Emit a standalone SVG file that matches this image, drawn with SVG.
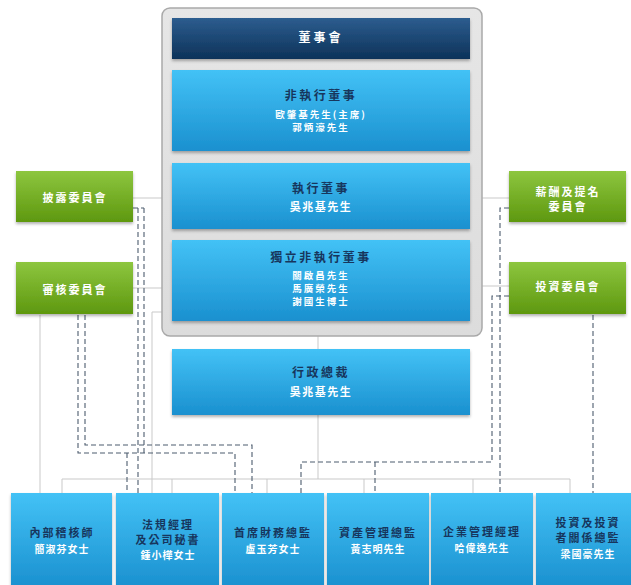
<svg xmlns="http://www.w3.org/2000/svg" width="631" height="585" viewBox="0 0 631 585">
<style>
text{font-family:"Noto Sans CJK TC","Noto Sans CJK SC",sans-serif;font-weight:bold;text-anchor:middle}
.t{font-size:12px;fill:#17365d;letter-spacing:2.5px}
.n{font-size:11px;fill:#ffffff;letter-spacing:1.5px}
.m{font-size:9.5px;fill:#ffffff;letter-spacing:2px}
.bt{font-size:11px;fill:#17365d;letter-spacing:2px}
.bn{font-size:10px;fill:#ffffff;letter-spacing:1px}
.g{font-size:11px;fill:#ffffff;letter-spacing:2px}
.w{font-size:12px;fill:#ffffff;letter-spacing:3px}
.blue{fill:url(#gb);filter:url(#sh)}
.green{fill:url(#gg);filter:url(#sh)}
.sl{stroke:#c9c9c9;stroke-width:1;fill:none}
.dl{stroke:#4d5c6e;stroke-width:1.1;fill:none;stroke-dasharray:5 3}
</style>
<defs>
<linearGradient id="gb" x1="0" y1="0" x2="0" y2="1"><stop offset="0" stop-color="#43c2f6"/><stop offset="1" stop-color="#1a90cf"/></linearGradient>
<linearGradient id="gg" x1="0" y1="0" x2="0" y2="1"><stop offset="0" stop-color="#8dc63f"/><stop offset="1" stop-color="#5e980f"/></linearGradient>
<linearGradient id="gn" x1="0" y1="0" x2="0" y2="1"><stop offset="0" stop-color="#2d5d8f"/><stop offset="1" stop-color="#0c3259"/></linearGradient>
<linearGradient id="gc" x1="0" y1="0" x2="0" y2="1"><stop offset="0" stop-color="#e6e6e6"/><stop offset="1" stop-color="#dcdcdc"/></linearGradient>
<filter id="sh" x="-10%" y="-10%" width="120%" height="140%"><feDropShadow dx="0" dy="2" stdDeviation="1.5" flood-color="#000" flood-opacity="0.3"/></filter>
</defs>
<rect width="631" height="585" fill="#ffffff"/>
<g id="connectors">
<path class="sl" d="M318 336V349M318 415V479M62 479H570M62 479V493M172 479V493M267 479V493M364 479V493M473 479V493M570 479V493"/>
<path class="sl" d="M133 198H162M133 288H162M482 198H509M482 286H509M40 315V493M162 312H152V493"/>
<path class="dl" d="M133 208H144M138 208V493M144 208V453"/>
<path class="dl" d="M85 315V445H252V493M78 315V453H235V493M127 453V493"/>
<path class="dl" d="M509 208H500V493M509 296H492V462H301V493M375 462V493M593 315V493"/>
</g>
<g id="container"><rect x="162" y="8" width="320" height="328" rx="8" fill="url(#gc)" stroke="#a9a9a9" stroke-width="1.5"/></g>
<g id="board"><rect x="172" y="18" width="298" height="41" fill="url(#gn)" filter="url(#sh)"/><text class="w" x="321" y="42">董事會</text></g>
<g id="ned"><rect class="blue" x="172" y="70" width="298" height="81"/><text class="t" x="321" y="100">非執行董事</text><text class="m" x="321" y="118">歐肇基先生(主席)</text><text class="m" x="321" y="131">郭炳濠先生</text></g>
<g id="ed"><rect class="blue" x="172" y="163" width="298" height="66"/><text class="t" x="321" y="193">執行董事</text><text class="n" x="321" y="211">吳兆基先生</text></g>
<g id="ined"><rect class="blue" x="172" y="240" width="298" height="81"/><text class="t" x="321" y="262">獨立非執行董事</text><text class="m" x="321" y="279">關啟昌先生</text><text class="m" x="321" y="292">馬廣榮先生</text><text class="m" x="321" y="305">謝國生博士</text></g>
<g id="ceo"><rect class="blue" x="172" y="349" width="298" height="66"/><text class="t" x="321" y="377">行政總裁</text><text class="n" x="321" y="396">吳兆基先生</text></g>
<g id="disclosure"><rect class="green" x="16" y="171" width="117" height="51"/><text class="g" x="75" y="202">披露委員會</text></g>
<g id="audit"><rect class="green" x="16" y="262" width="117" height="52"/><text class="g" x="75" y="294">審核委員會</text></g>
<g id="remuneration"><rect class="green" x="509" y="171" width="117" height="51"/><text class="g" x="568" y="196">薪酬及提名</text><text class="g" x="568" y="211">委員會</text></g>
<g id="investment"><rect class="green" x="509" y="262" width="117" height="52"/><text class="g" x="568" y="291">投資委員會</text></g>
<g id="b1"><rect class="blue" x="11" y="493" width="101" height="95"/><text class="bt" x="62" y="537">內部稽核師</text><text class="bn" x="62" y="553">簡淑芬女士</text></g>
<g id="b2"><rect class="blue" x="116" y="493" width="103" height="95"/><text class="bt" x="168" y="529">法規經理</text><text class="bt" x="168" y="544">及公司秘書</text><text class="bn" x="168" y="559">鍾小樺女士</text></g>
<g id="b3"><rect class="blue" x="222" y="493" width="102" height="95"/><text class="bt" x="273" y="537">首席財務總監</text><text class="bn" x="273" y="553">盧玉芳女士</text></g>
<g id="b4"><rect class="blue" x="327" y="493" width="102" height="95"/><text class="bt" x="378" y="537">資產管理總監</text><text class="bn" x="378" y="553">黃志明先生</text></g>
<g id="b5"><rect class="blue" x="431" y="493" width="102" height="95"/><text class="bt" x="482" y="536">企業管理經理</text><text class="bn" x="482" y="552">哈偉逸先生</text></g>
<g id="b6"><rect class="blue" x="536" y="493" width="104" height="95"/><text class="bt" x="588" y="527">投資及投資</text><text class="bt" x="588" y="542">者關係總監</text><text class="bn" x="588" y="558">梁國豪先生</text></g>
</svg>
